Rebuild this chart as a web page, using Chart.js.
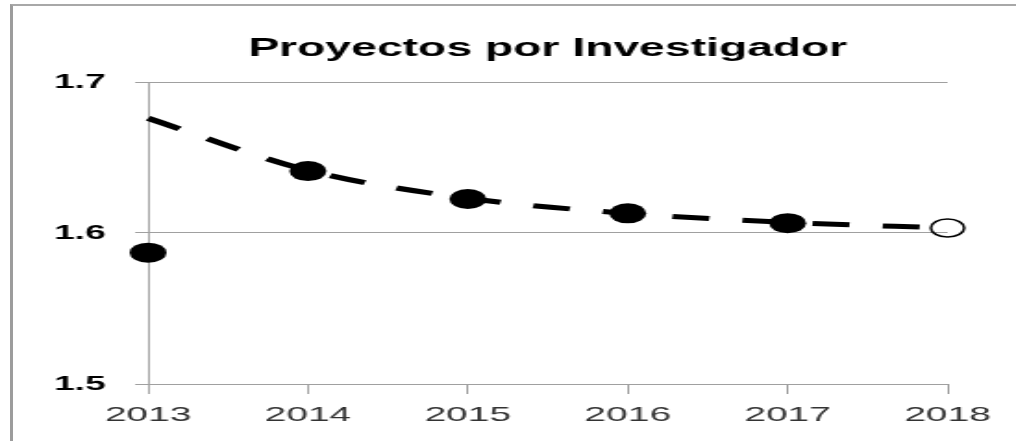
<!DOCTYPE html>
<html>
<head>
<meta charset="utf-8">
<script src="https://cdn.jsdelivr.net/npm/chart.js@4.4.0/dist/chart.umd.min.js"></script>
<style>
  html, body { margin:0; padding:0; background:#fff; overflow:hidden; width:1016px; height:441px; }
  #frame { position:absolute; left:10px; top:4px; width:1200px; height:600px;
           border-left:3px solid #9c9c9c; border-top:2px solid #a8a8a8; }
  #wrap { position:absolute; left:0; top:0; width:549px; height:441px;
          transform:scaleX(1.8506); transform-origin:0 0; }
</style>
</head>
<body>
<div id="frame"></div>
<div id="wrap"><canvas id="c" width="549" height="441"></canvas></div>
<script>
const years = ['2013', '2014', '2015', '2016', '2017', '2018'];
const actualValues = [1.587, 1.641, 1.6225, 1.613, 1.6065, null];
const forecastValues = [null, null, null, null, null, 1.6033];
const trendValues = [1.676, 1.6415, 1.623, 1.613, 1.607, 1.6033];
const yTicks = [1.5, 1.6, 1.7];
const chartTitle = 'Proyectos por Investigador';

const gridColor = '#a0a0a0';

new Chart(document.getElementById('c'), {
  type: 'line',
  data: {
    labels: years,
    datasets: [
      {
        label: 'Tendencia',
        data: trendValues,
        borderColor: '#000',
        borderWidth: 5,
        borderDash: [20, 18],
        borderCapStyle: 'butt',
        cubicInterpolationMode: 'monotone',
        pointRadius: 0,
        fill: false,
        clip: false,
        order: 2
      },
      {
        label: 'Proyectos por Investigador',
        data: actualValues,
        showLine: false,
        pointRadius: 10,
        pointBackgroundColor: '#000',
        pointBorderColor: '#000',
        pointBorderWidth: 0,
        clip: false,
        order: 1
      },
      {
        label: 'Previsión',
        data: forecastValues,
        showLine: false,
        pointRadius: 9,
        pointBackgroundColor: 'rgba(255,255,255,0)',
        pointBorderColor: '#000',
        pointBorderWidth: 1.5,
        clip: false,
        order: 0
      }
    ]
  },
  options: {
    responsive: false,
    devicePixelRatio: 1,
    animation: false,
    layout: { padding: { left: 0, right: 37, top: 0, bottom: 0 } },
    plugins: {
      legend: { display: false },
      tooltip: { enabled: false },
      title: {
        display: true,
        text: chartTitle,
        fullSize: false,
        color: '#000',
        font: { family: 'Liberation Sans', size: 25, weight: 'bold', lineHeight: 1.2 },
        padding: { top: 34, bottom: 18 }
      }
    },
    scales: {
      x: {
        type: 'category',
        offset: false,
        grid: { display: true, drawOnChartArea: false, drawTicks: true, tickLength: 10, color: gridColor },
        border: { display: true, color: gridColor, width: 1 },
        ticks: {
          color: '#333',
          padding: 9,
          maxRotation: 0,
          autoSkip: false,
          font: { family: 'Liberation Sans', size: 21, lineHeight: 1.2 }
        },
        afterFit: (scale) => { scale.height = 57; }
      },
      y: {
        min: 1.5,
        max: 1.7,
        grid: { color: gridColor, tickLength: 7, drawTicks: true },
        border: { display: true, color: gridColor, width: 1 },
        afterBuildTicks: (scale) => { scale.ticks = yTicks.map(v => ({ value: v })); },
        ticks: {
          color: '#000',
          padding: 16,
          font: { family: 'Liberation Sans', size: 20, weight: 'bold', lineHeight: 1.2 },
          callback: (v) => Number(v).toFixed(1)
        },
        afterFit: (scale) => { scale.width = 80; }
      }
    }
  }
});
</script>
</body>
</html>
